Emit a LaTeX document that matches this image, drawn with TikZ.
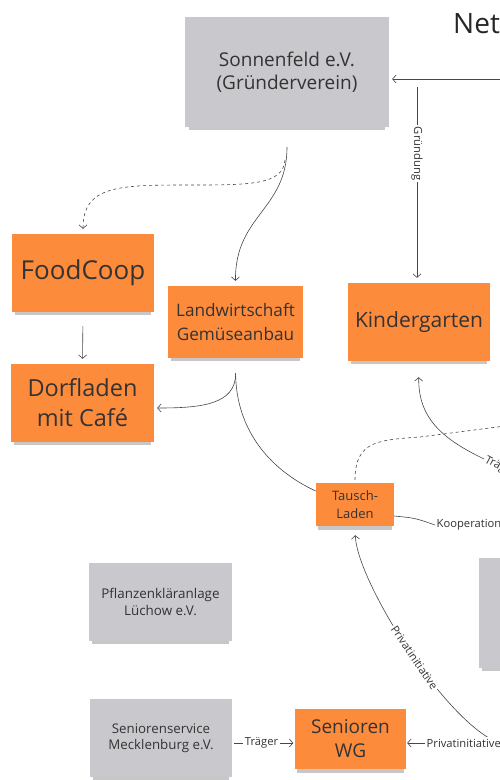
\documentclass[tikz,border=0pt]{standalone}
\usepackage{fontspec}
\setmainfont{Open Sans}
\usetikzlibrary{arrows.meta,shadows}
\definecolor{boxgray}{RGB}{201,201,205}
\definecolor{stickyor}{RGB}{253,139,60}
\definecolor{ink}{RGB}{51,51,51}
\definecolor{linec}{RGB}{70,70,70}
\begin{document}
\begin{tikzpicture}[x=1pt,y=-1pt,
  note/.style={inner sep=0pt, align=center, text=ink,
    general shadow={fill=black, opacity=.22, shadow yshift=-5pt, shadow scale=.96}},
  gnote/.style={note, fill=boxgray},
  onote/.style={note, fill=stickyor},
  conn/.style={draw=linec, line width=0.6pt},
  arr/.style={-{Straight Barb[length=3.5pt,width=8pt]}},
  dashline/.style={dash pattern=on 3pt off 3pt},
  lbl/.style={font=\fontsize{11.2}{13}\selectfont, text=ink, fill=white, inner sep=1.5pt}
]
\useasboundingbox (0,0) rectangle (500,780);
\clip (0,0) rectangle (500,780);

% title
\node[anchor=base west, font=\fontsize{28}{34}\selectfont, text=black!85, inner sep=0pt] (title) at (453,33) {Net};

% boxes
\node[gnote, minimum width=204pt, minimum height=110pt, font=\fontsize{19}{23}\selectfont] (son) at (287,72) {Sonnenfeld e.V.\\(Gründerverein)};
\node[onote, minimum width=142pt, minimum height=78pt, font=\fontsize{26}{30}\selectfont] (food) at (83,273) {FoodCoop};
\node[onote, minimum width=143pt, minimum height=78pt, font=\fontsize{23.5}{30}\selectfont] (dorf) at (82.5,403) {Dorfladen\\mit Café};
\node[onote, minimum width=135pt, minimum height=72pt, font=\fontsize{17.2}{24}\selectfont] (land) at (235.5,322) {Landwirtschaft\\Gemüseanbau};
\node[onote, minimum width=142pt, minimum height=78pt, font=\fontsize{21}{26}\selectfont] (kind) at (419,322) {Kindergarten};
\node[onote, minimum width=78pt, minimum height=43pt, font=\fontsize{13}{18}\selectfont] (tausch) at (355,504.5) {Tausch-\\Laden};
\node[gnote, minimum width=143pt, minimum height=78pt, font=\fontsize{13.4}{16.5}\selectfont] (pflanz) at (160.5,602) {Pflanzenkläranlage\\Lüchow e.V.};
\node[gnote, minimum width=142pt, minimum height=78pt, font=\fontsize{13.3}{16}\selectfont] (senserv) at (161,738) {Seniorenservice\\Mecklenburg e.V.};
\node[onote, minimum width=111pt, minimum height=60pt, font=\fontsize{19}{24}\selectfont] (senwg) at (350.5,739) {Senioren\\WG};
\node[gnote, minimum width=150pt, minimum height=110pt, anchor=north west] (rgray) at (479,558) {};

% coordinates for free ends
\coordinate (rin) at (505,79);
\coordinate (gtop) at (417,87);
\coordinate (sA) at (287,147);
\coordinate (dA) at (285,160);
\coordinate (dEnd) at (505,426);
\coordinate (pS) at (510,745);

% connectors
\draw[conn, arr, shorten >=3pt] (rin) -- (rin -| son.east);
\draw[conn, arr, shorten >=5pt] (gtop) -- node[lbl, rotate=-90, pos=.34] (glab) {Gründung} (gtop |- kind.north);
\draw[conn, arr, shorten >=5pt] (sA) .. controls (287,210) and (235,215) .. (land.north);
\draw[conn, arr, dashline, shorten >=5pt] (dA) .. controls (283,185) and (250,185) .. (190,185)
   .. controls (120,185) and (83,185) .. (food.north);
\draw[conn, arr, shorten <=14pt, shorten >=5pt] (food.south) -- (dorf.north);
\draw[conn, arr, shorten <=15pt, shorten >=3pt] (land.south) .. controls (236,405) and (200,408) .. ([yshift=-5pt]dorf.east);
\draw[conn, shorten <=15pt] (land.south) .. controls (236,430) and (270,470) .. ([yshift=13.5pt]tausch.west);
\draw[conn, dashline, shorten <=3pt] (tausch.north) .. controls (355,440) and (380,440) .. (420,437) -- (dEnd);

\node[lbl, rotate=-28, anchor=west] (trlab) at (484,459) {Träger};
\draw[conn, arr, shorten >=16pt] (trlab.west) .. controls (445,440) and (418,420) .. (kind.south);

\node[lbl, anchor=west] (koop) at (435,525) {Kooperation};
\draw[conn] ([yshift=-11.5pt]tausch.east) .. controls (415,518) .. (koop.west);

\draw[conn, arr, shorten >=9pt] (pS) .. controls (460,745) and (357,585) .. node[lbl, sloped, pos=.5] (privlab1) {Privatinitiative} (tausch.south);

\node[lbl, anchor=west] (privlab) at (425,743) {Privatinitiative};
\draw[conn, arr, shorten >=1pt] (privlab.west) -- (privlab.west -| senwg.east);

\node[lbl] (traeger) at (261.5,743) {Träger};
\draw[conn, shorten <=1.5pt] (senserv.east |- traeger) -- (traeger.west);
\draw[conn, arr, shorten >=1.5pt] (traeger.east) -- (traeger -| senwg.west);
\end{tikzpicture}
\end{document}
